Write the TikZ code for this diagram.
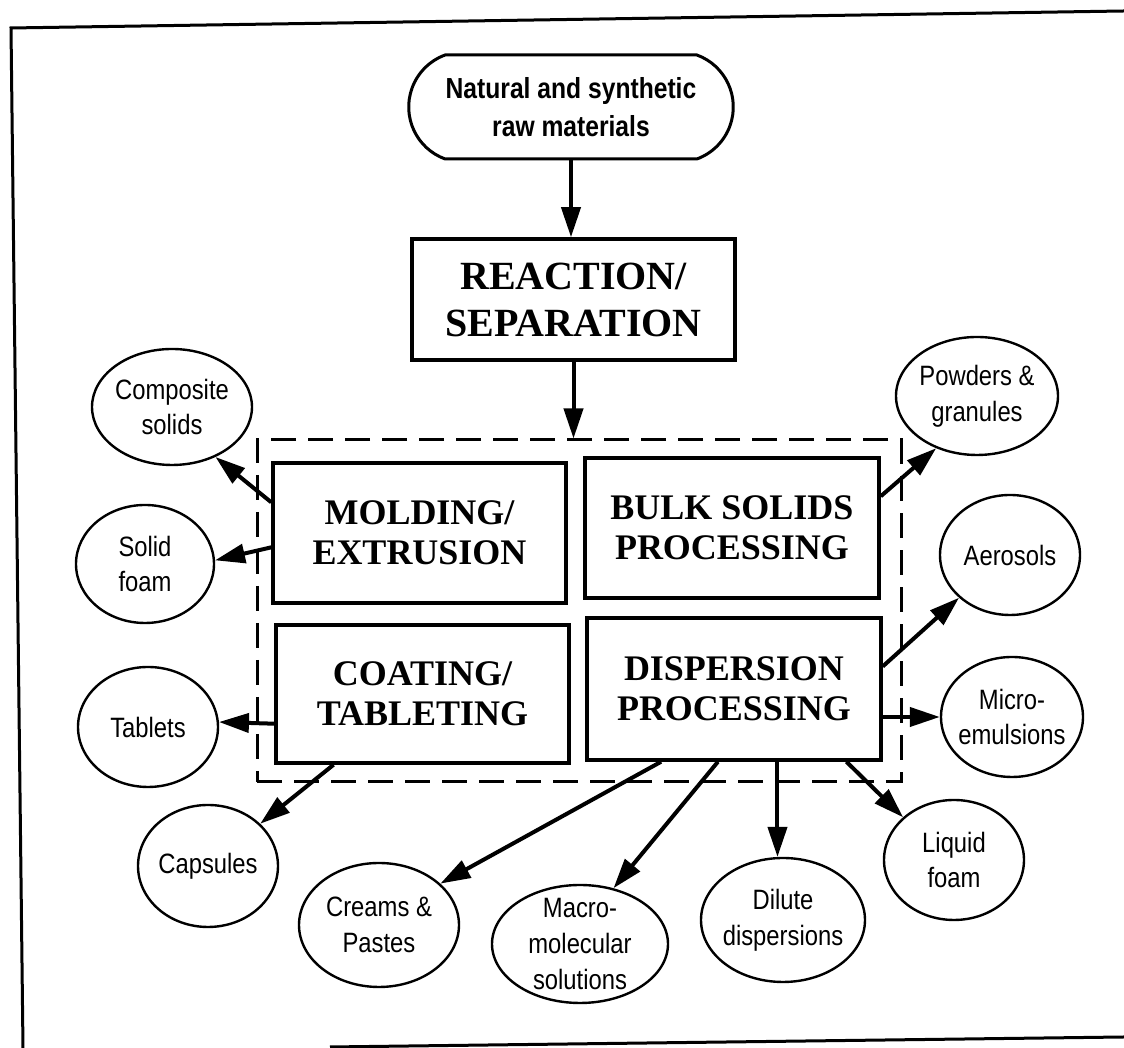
\documentclass[tikz,border=0pt]{standalone}
\usepackage{fontspec}
\setmainfont{Liberation Serif}
\newfontfamily\labelfont[FakeStretch=0.85]{Liberation Sans}
\newfontfamily\headfont[FakeStretch=0.85]{Liberation Sans}
\usetikzlibrary{shapes.geometric,shapes.misc,arrows.meta,calc}

\begin{document}
\begin{tikzpicture}[x=0.1mm,y=-0.1mm,
  frameline/.style={line width=0.3mm},
  procbox/.style={draw, rectangle, line width=0.35mm, align=center, inner sep=0pt,
    font=\bfseries\fontsize{10.24}{11.38}\selectfont},
  product/.style={draw, ellipse, line width=0.24mm, align=center,
    inner xsep=-1.5mm, inner ysep=-3mm,
    font=\labelfont\fontsize{7.97}{10.24}\selectfont},
  flow/.style={line width=0.4mm, -{Triangle[length=3mm,width=1.9mm]}},
]
\useasboundingbox (0,0) rectangle (1124,1048);

% page frame
\draw[frameline] (1124,11) -- (11,28) -- (23,1048);
\draw[frameline] (330,1047) -- (1124,1037);

% raw material source
\node[draw, rounded rectangle, rounded rectangle arc length=140,
      minimum width=34.8mm, minimum height=10.4mm, line width=0.3mm,
      align=center, font=\headfont\bfseries\fontsize{8.25}{10.8}\selectfont]
      (raw) at (571,107) {Natural and synthetic\\raw materials};

% reaction / separation
\node[procbox, minimum width=32.3mm, minimum height=12.1mm,
      font=\bfseries\fontsize{11.38}{13.37}\selectfont]
      (react) at (573.5,299.5) {REACTION/\\SEPARATION};

% group of product-forming operations
\node[draw, dashed, dash pattern=on 2.5mm off 1.2mm, line width=0.3mm,
      minimum width=64.4mm, minimum height=34.2mm, inner sep=0pt]
      (grp) at (579,611) {};

\node[procbox, minimum width=29.3mm, minimum height=14.0mm] (mold) at (419.5,533) {MOLDING/\\EXTRUSION};
\node[procbox, minimum width=29.4mm, minimum height=14.0mm] (bulk) at (732,528) {BULK SOLIDS\\PROCESSING};
\node[procbox, minimum width=29.3mm, minimum height=13.8mm] (coat) at (422.5,694) {COATING/\\TABLETING};
\node[procbox, minimum width=29.4mm, minimum height=14.2mm] (disp) at (734,689) {DISPERSION\\PROCESSING};

% products
\node[product, minimum width=16.0mm, minimum height=11.6mm] (comp)   at (172,407)  {Composite\\solids};
\node[product, minimum width=13.8mm, minimum height=11.8mm] (sfoam)  at (145,564)  {Solid\\foam};
\node[product, minimum width=14.0mm, minimum height=12.0mm] (tab)    at (148,727)  {Tablets};
\node[product, minimum width=14.0mm, minimum height=12.2mm] (caps)   at (208,866)  {Capsules};
\node[product, minimum width=16.0mm, minimum height=12.4mm] (creams) at (379,925)  {Creams \&\\Pastes};
\node[product, minimum width=17.6mm, minimum height=11.8mm] (macro)  at (580,944)  {Macro-\\molecular\\solutions};
\node[product, minimum width=16.4mm, minimum height=12.4mm] (dilute) at (783,920)  {Dilute\\dispersions};
\node[product, minimum width=14.0mm, minimum height=12.0mm] (lfoam)  at (954,860)  {Liquid\\foam};
\node[product, minimum width=14.2mm, minimum height=12.0mm] (micro)  at (1012,717) {Micro-\\emulsions};
\node[product, minimum width=14.0mm, minimum height=12.0mm] (aero)   at (1010,555) {Aerosols};
\node[product, minimum width=16.2mm, minimum height=11.8mm] (powd)   at (977,396)  {Powders \&\\granules};

% main flow
\draw[flow] (raw.south) -- (raw.south |- react.north);
\draw[flow] (react.south) -- (react.south |- grp.north);

% product arrows
\draw[flow] ($(mold.north west)!0.286!(mold.south west)$) -- (comp.-49);
\draw[flow] ($(mold.north west)!0.6!(mold.south west)$) -- (sfoam.3);
\draw[flow] ($(coat.north west)!0.71!(coat.south west)$) -- (tab.4);
\draw[flow] ($(coat.south west)!0.2!(coat.south east)$) -- (caps.39);
\draw[flow] ($(disp.south west)!0.255!(disp.south east)$) -- (creams.34);
\draw[flow] ($(disp.south west)!0.446!(disp.south east)$) -- (macro.59);
\draw[flow] (disp.south -| dilute.95) -- (dilute.95);
\draw[flow] ($(disp.south west)!0.878!(disp.south east)$) -- (lfoam.140);
\draw[flow] (disp.east |- micro.west) -- (micro.west);
\draw[flow] ($(disp.north east)!0.345!(disp.south east)$) -- (aero.-140);
\draw[flow] ($(bulk.north east)!0.279!(bulk.south east)$) -- (powd.-128);
\end{tikzpicture}
\end{document}
